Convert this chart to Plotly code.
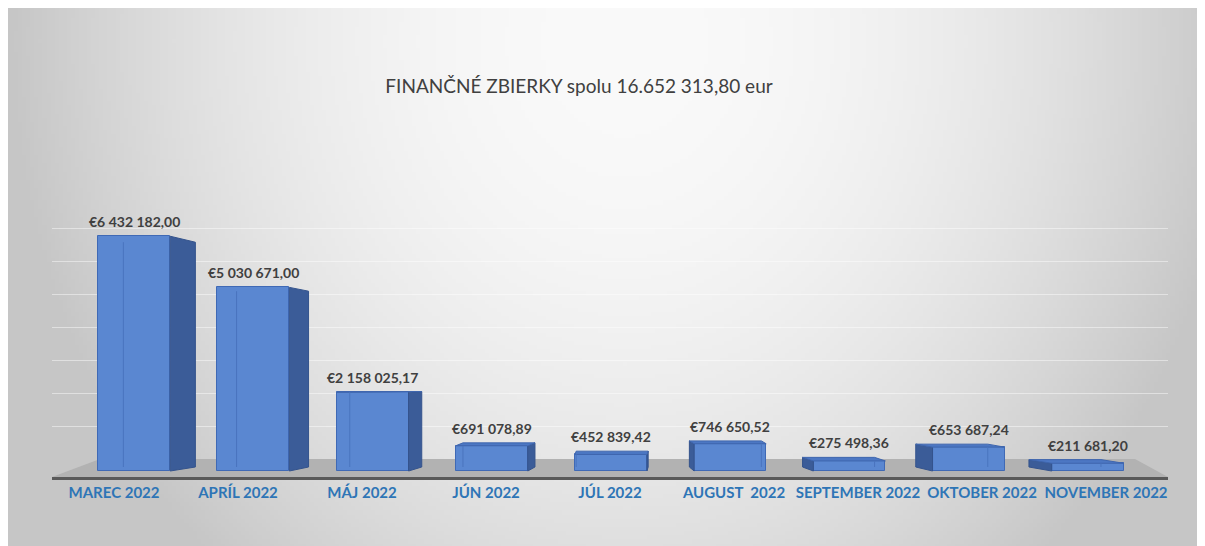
import base64
import struct
import zlib

import numpy as np
import plotly.graph_objects as go

# ---------------- data ----------------
CATEGORIES = ["MAREC 2022", "APRÍL 2022", "MÁJ 2022", "JÚN 2022", "JÚL 2022",
              "AUGUST\u00a0 2022", "SEPTEMBER 2022", "OKTOBER 2022", "NOVEMBER 2022"]
VALUES = [6432182.00, 5030671.00, 2158025.17, 691078.89, 452839.42,
          746650.52, 275498.36, 653687.24, 211681.20]
GRID_VALUES = [1e6, 2e6, 3e6, 4e6, 5e6, 6e6, 7e6]
TITLE = "FINANČNÉ ZBIERKY spolu 16.652 313,80 eur"

# ---------------- styling / geometry (page pixels, minus body margin) ----------------
OFF = 8                                   # default body margin of the html page
FIG_W, FIG_H = 1205 - OFF, 546 - OFF
PLOT_L, PLOT_R, PLOT_T, PLOT_B = 52 - OFF, 1168 - OFF, 40 - OFF, 477 - OFF
PLOT_W, PLOT_H = PLOT_R - PLOT_L, PLOT_B - PLOT_T
N = len(CATEGORIES)
CAT_PX = PLOT_W / N

BAR_ZERO_PX = 471 - OFF         # front face baseline
BAR_PX_PER_EUR = 36.5 / 1e6
WALL_ZERO_PX = 459 - OFF        # back wall baseline
WALL_PX_PER_EUR = 33.0 / 1e6

VP_CAT = 4.2                    # perspective centre (category units)
FRONT_SHIFT_PX = 4.8
DEPTH_PX = 6.0
VP_Y_PX = 377 - OFF
K_DEPTH = 0.0426
BAR_W_PX = 72

FRONT = "#5A87D1"
FRONT_LINE = "#3F69B5"
SIDE = "#3B5C98"
TOP = "#4C77C3"
EDGE = "#4A74BE"
FONT = "Lato"


def fmt_eur(v):
    s = f"{v:,.2f}".replace(",", " ").replace(".", ",")
    return "€" + s


def png_data_uri(rgb):
    h, w, _ = rgb.shape
    raw = b"".join(b"\x00" + rgb[r].tobytes() for r in range(h))

    def chunk(tag, data):
        return (struct.pack(">I", len(data)) + tag + data
                + struct.pack(">I", zlib.crc32(tag + data) & 0xFFFFFFFF))

    ihdr = struct.pack(">IIBBBBB", w, h, 8, 2, 0, 0, 0)
    png = (b"\x89PNG\r\n\x1a\n" + chunk(b"IHDR", ihdr)
           + chunk(b"IDAT", zlib.compress(raw, 9)) + chunk(b"IEND", b""))
    return "data:image/png;base64," + base64.b64encode(png).decode()


# background gradient (light top-centre, grey edges), in figure pixels
gw, gh = 300, 135
xs = (np.arange(gw) + 0.5) * FIG_W / gw
ys = (np.arange(gh) + 0.5) * FIG_H / gh
X, Y = np.meshgrid(xs, ys)
r2 = ((X - (615 - OFF)) / 607) ** 2 + ((Y - (40 - OFF)) / 680) ** 2
col = 250 - 52 * np.minimum(r2, 1.0)
img = np.clip(np.stack([col, col, col], axis=-1), 0, 255).astype(np.uint8)
BG_URI = png_data_uri(img)

# ---------------- axis ranges ----------------
wall_range = [-(PLOT_B - WALL_ZERO_PX) / WALL_PX_PER_EUR,
              (WALL_ZERO_PX - PLOT_T) / WALL_PX_PER_EUR]
bar_range = [-(PLOT_B - BAR_ZERO_PX) / BAR_PX_PER_EUR,
             (BAR_ZERO_PX - PLOT_T) / BAR_PX_PER_EUR]
vy = (BAR_ZERO_PX - VP_Y_PX) / BAR_PX_PER_EUR

fig = go.Figure()

# floor
floor_front = wall_range[0]
fig.add_trace(go.Scatter(
    x=[-0.5, -0.5 + 48 / CAT_PX, N - 0.5 - 33 / CAT_PX, N - 0.5],
    y=[floor_front, 0, 0, floor_front],
    fill="toself", fillcolor="#B2B2B2", mode="lines", line=dict(width=0),
    hoverinfo="skip", showlegend=False, xaxis="x", yaxis="y"))

idx = np.arange(N)
shift = (VP_CAT - idx) * FRONT_SHIFT_PX / CAT_PX
depth = (VP_CAT - idx) * DEPTH_PX / CAT_PX
half = BAR_W_PX / 2 / CAT_PX

# side & top faces
for i, v in enumerate(VALUES):
    xl = i + shift[i] - half
    xr = i + shift[i] + half
    d = depth[i]
    vtb = v + (vy - v) * K_DEPTH
    vbb = 0 + (vy - 0) * K_DEPTH
    xe = xr if d > 0 else xl
    fig.add_trace(go.Scatter(
        x=[xe, xe, xe + d, xe + d, xe], y=[0, v, vtb, vbb, 0],
        fill="toself", fillcolor=SIDE, mode="lines",
        line=dict(color="#34538C", width=1),
        hoverinfo="skip", showlegend=False, xaxis="x", yaxis="y2"))
    if vtb > v:
        fig.add_trace(go.Scatter(
            x=[xl, xr, xr + d, xl + d, xl], y=[v, v, vtb, vtb, v],
            fill="toself", fillcolor=TOP, mode="lines",
            line=dict(color="#3F66AE", width=1),
            hoverinfo="skip", showlegend=False, xaxis="x", yaxis="y2"))
    # back edge seen through front face
    xb = xl + d if d > 0 else xr + d
    fig.add_trace(go.Scatter(
        x=[xb, xb], y=[vbb, min(v, vtb)], mode="lines",
        line=dict(color=EDGE, width=1),
        hoverinfo="skip", showlegend=False, xaxis="x", yaxis="y2"))

# front faces
fig.add_trace(go.Bar(
    x=idx, y=VALUES, width=BAR_W_PX / CAT_PX,
    offset=list(shift - half),
    marker=dict(color=FRONT, line=dict(color=FRONT_LINE, width=1)),
    hoverinfo="skip", showlegend=False, xaxis="x", yaxis="y2"))

annotations = []
for i, v in enumerate(VALUES):
    vtb = v + (vy - v) * K_DEPTH
    annotations.append(dict(
        x=i + shift[i], y=max(v, vtb), xref="x", yref="y2",
        text=fmt_eur(v), showarrow=False, yanchor="bottom", yshift=4,
        font=dict(family=FONT, size=14, color="#404040", weight="bold")))

fig.update_layout(
    width=FIG_W, height=FIG_H,
    margin=dict(l=PLOT_L, r=FIG_W - PLOT_R, t=PLOT_T, b=FIG_H - PLOT_B),
    paper_bgcolor="#CDCDCD", plot_bgcolor="rgba(0,0,0,0)",
    showlegend=False, bargap=0,
    title=dict(text=TITLE, x=(579 - OFF) / FIG_W, xanchor="center", xref="container",
               y=1 - (86 - OFF) / FIG_H, yanchor="middle", yref="container",
               font=dict(family=FONT, size=19, color="#404040")),
    xaxis=dict(range=[-0.5, N - 0.5], tickmode="array", tickvals=list(idx),
               ticktext=CATEGORIES, showgrid=False, zeroline=False,
               showline=True, linecolor="#595959", linewidth=3, ticks="",
               tickfont=dict(family=FONT, size=15, color="#2E75B6", weight="bold")),
    yaxis=dict(range=wall_range, tickmode="array", tickvals=GRID_VALUES,
               showticklabels=False, showgrid=True,
               gridcolor="rgba(255,255,255,0.45)", gridwidth=1,
               zeroline=False, showline=False),
    yaxis2=dict(range=bar_range, overlaying="y", visible=False),
    annotations=annotations,
    images=[dict(source=BG_URI, xref="paper", yref="paper",
                 x=-PLOT_L / PLOT_W, y=PLOT_B / PLOT_H,
                 sizex=(FIG_W + 20) / PLOT_W, sizey=(FIG_H + 20) / PLOT_H,
                 xanchor="left", yanchor="top", sizing="stretch", layer="below")],
)

fig.write_html("out.html",
               post_script="document.documentElement.style.overflow='hidden';")
